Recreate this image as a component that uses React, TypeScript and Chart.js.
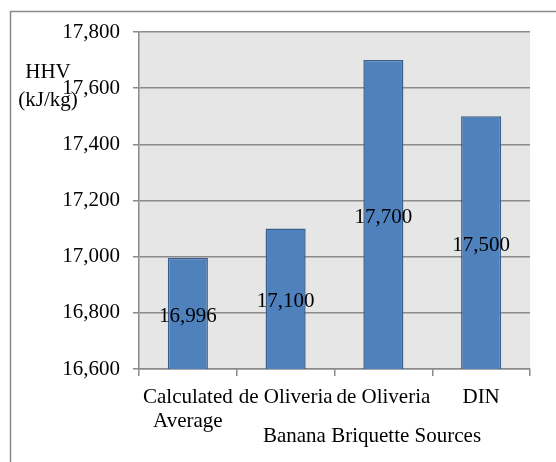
import React, { useEffect, useRef } from "react";
import { Chart, registerables } from "chart.js";

Chart.register(...registerables);

const categories: (string | string[])[] = [["Calculated", "Average"], "de Oliveria", "de Oliveria", "DIN"];
const values: number[] = [16996, 17100, 17700, 17500];
const yMin = 16600;
const yMax = 17800;
const yStep = 200;
const yTitleLines = ["HHV", "(kJ/kg)"];
const xTitle = "Banana Briquette Sources";

const FONT = "'Liberation Serif', 'Times New Roman', serif";
const FONT_SIZE = 21;
const GRID = "#8a8a8a";

const fmt = (v: number) => v.toLocaleString("en-US");

const decorPlugin = {
  id: "decor",
  beforeDraw(chart: any) {
    const { ctx, chartArea } = chart;
    ctx.save();
    ctx.fillStyle = "#ffffff";
    ctx.fillRect(0, 0, chart.width, chart.height);
    ctx.strokeStyle = GRID;
    ctx.lineWidth = 1.5;
    ctx.beginPath();
    ctx.moveTo(10.5, chart.height + 5);
    ctx.lineTo(10.5, 11.5);
    ctx.lineTo(chart.width + 5, 11.5);
    ctx.stroke();
    ctx.fillStyle = "#e6e6e6";
    ctx.fillRect(chartArea.left, chartArea.top, chartArea.right - chartArea.left, chartArea.bottom - chartArea.top);
    ctx.restore();
  },
  afterDraw(chart: any) {
    const { ctx } = chart;
    const yScale = chart.scales.y;
    const xScale = chart.scales.x;
    ctx.save();
    ctx.fillStyle = "#000000";
    ctx.font = `${FONT_SIZE}px ${FONT}`;
    ctx.textAlign = "center";
    ctx.textBaseline = "middle";
    values.forEach((v, i) => {
      const x = xScale.getPixelForValue(i);
      const top = yScale.getPixelForValue(v);
      const base = yScale.getPixelForValue(yMin);
      ctx.fillText(fmt(v), x, (top + base) / 2 + 3);
    });
    ctx.textBaseline = "alphabetic";
    ctx.fillText(yTitleLines[0], 48, 78);
    ctx.fillText(yTitleLines[1], 48, 106);
    ctx.fillText(xTitle, 372, 442);
    ctx.restore();
  },
};

export default function App() {
  const ref = useRef<HTMLCanvasElement | null>(null);
  useEffect(() => {
    if (!ref.current) return;
    const chart = new Chart(ref.current, {
      type: "bar",
      data: {
        labels: categories,
        datasets: [
          {
            data: values,
            backgroundColor: "#4f81bd",
            borderColor: "#3a5f8c",
            borderWidth: 1.5,
            barPercentage: 0.41,
            categoryPercentage: 1,
          },
        ],
      },
      options: {
        responsive: false,
        animation: false,
        layout: { padding: { top: 32, right: 26, left: 0, bottom: 0 } },
        plugins: {
          legend: { display: false },
          tooltip: { enabled: false },
          title: { display: false },
        },
        scales: {
          x: {
            offset: true,
            grid: {
              offset: true,
              drawOnChartArea: false,
              drawTicks: true,
              tickLength: 7,
              color: GRID,
              lineWidth: 1.5,
            },
            border: { color: GRID, width: 1.5 },
            ticks: {
              color: "#000",
              font: { family: FONT, size: FONT_SIZE, lineHeight: 1.15 },
              padding: 9,
              maxRotation: 0,
              autoSkip: false,
            },
            afterFit: (s: any) => {
              s.height = 93;
            },
          },
          y: {
            min: yMin,
            max: yMax,
            grid: { color: GRID, lineWidth: 1.5, tickLength: 6 },
            border: { color: GRID, width: 1.5 },
            ticks: {
              stepSize: yStep,
              color: "#000",
              font: { family: FONT, size: FONT_SIZE },
              padding: 13,
              callback: (v: any) => fmt(Number(v)),
            },
            afterFit: (s: any) => {
              s.width = 139;
            },
          },
        },
      },
      plugins: [decorPlugin],
    });
    return () => chart.destroy();
  }, []);
  return (
    <div style={{ position: "fixed", left: 0, top: 0, width: 556, height: 462, overflow: "hidden" }}>
      <canvas ref={ref} width={556} height={462} style={{ display: "block" }} />
    </div>
  );
}
